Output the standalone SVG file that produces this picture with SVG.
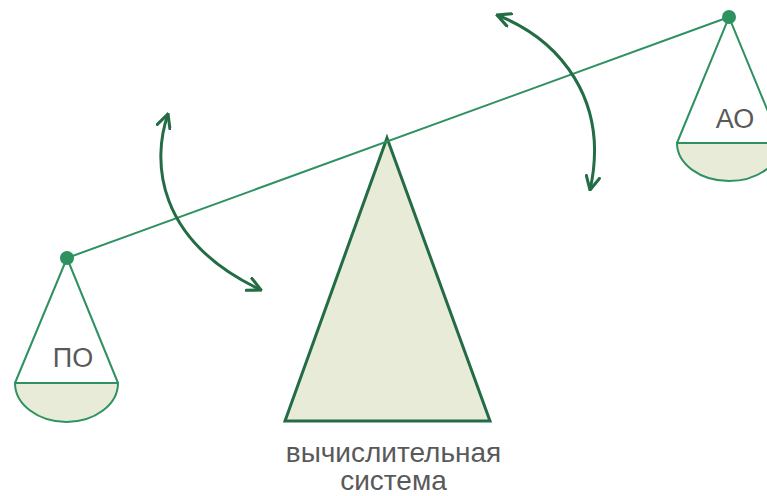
<svg xmlns="http://www.w3.org/2000/svg" width="767" height="496" viewBox="0 0 767 496">
<style>
.thin{stroke:#2e9160;stroke-width:2;fill:none}
.pan{fill:#e8ebd8;stroke:#2e9160;stroke-width:2}
.base{fill:#e8ebd8;stroke:#236c46;stroke-width:3;stroke-linejoin:miter}
.arc{fill:none;stroke:#236c46;stroke-width:3}
.lbl{font-family:"Liberation Sans",Arial,sans-serif;font-size:27px;fill:#595959;text-anchor:middle}
.big{font-size:28px}
</style>
<defs>
<marker id="ah" viewBox="0 0 12 12" refX="11" refY="6" markerWidth="16" markerHeight="16" markerUnits="userSpaceOnUse" orient="auto-start-reverse">
<path d="M1,1 L11,6 L1,11" fill="none" stroke="#236c46" stroke-width="2.3" stroke-linecap="round" stroke-linejoin="miter"/>
</marker>
</defs>
<g id="fulcrum">
<path class="base" d="M387,138 L490,421 L285,421 Z"/>
<text class="lbl big" x="393.5" y="462">вычислительная</text>
<text class="lbl big" x="393.5" y="490">система</text>
</g>
<g id="beam">
<line class="thin" x1="67" y1="258" x2="729" y2="17"/>
</g>
<g id="pan-left">
<path class="thin" d="M15,383 L67,258 L118,383"/>
<path class="pan" d="M15,383 A51.5,39 0 0 0 118,383 Z"/>
<circle cx="67" cy="258" r="7" fill="#2e9160"/>
<text class="lbl" x="73" y="367">ПО</text>
</g>
<g id="pan-right">
<path class="thin" d="M677,143 L729,17 L781,143"/>
<path class="pan" d="M677,143 A52,38 0 0 0 781,143 Z"/>
<circle cx="729" cy="17" r="7" fill="#2e9160"/>
<text class="lbl" x="735" y="128">АО</text>
</g>
<g id="connectors">
<path class="arc" d="M168,114 C152,160 155,240 261,290" marker-start="url(#ah)" marker-end="url(#ah)"/>
<path class="arc" d="M497,15 C560,40 610,100 590,190" marker-start="url(#ah)" marker-end="url(#ah)"/>
</g>
</svg>
